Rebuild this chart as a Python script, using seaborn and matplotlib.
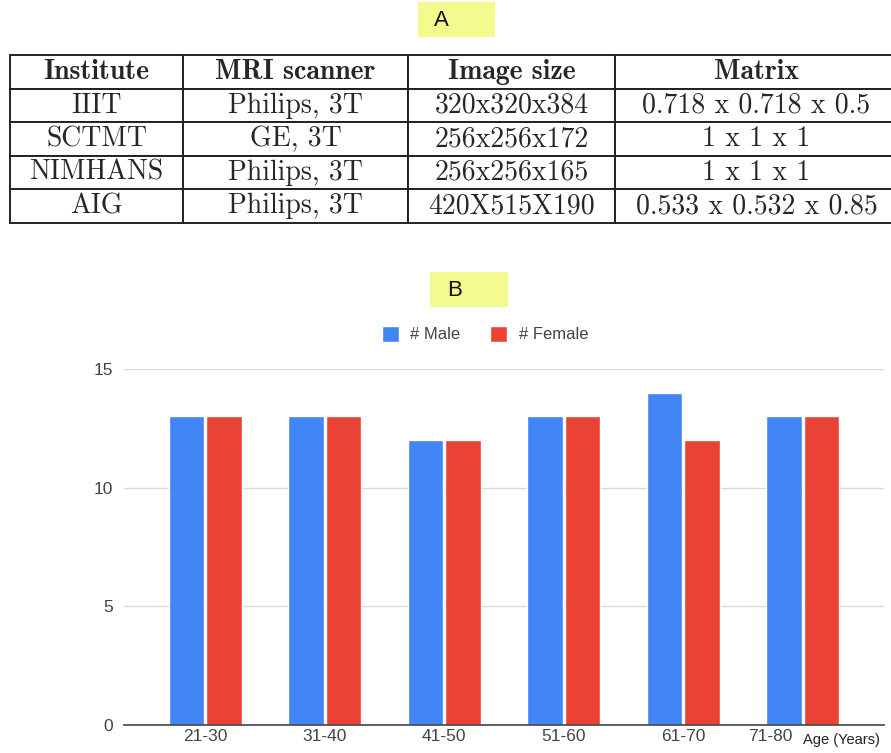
import pandas as pd
import matplotlib.pyplot as plt
import matplotlib.transforms as mtransforms
from matplotlib.patches import Rectangle
import seaborn as sns

# -------- DATA --------
table_header = ["Institute", "MRI scanner", "Image size", "Matrix"]
table_rows = [
    ["IIIT", "Philips, 3T", "320x320x384", "0.718 x 0.718 x 0.5"],
    ["SCTMT", "GE, 3T", "256x256x172", "1 x 1 x 1"],
    ["NIMHANS", "Philips, 3T", "256x256x165", "1 x 1 x 1"],
    ["AIG", "Philips, 3T", "420X515X190", "0.533 x 0.532 x 0.85"],
]

age_groups = ["21-30", "31-40", "41-50", "51-60", "61-70", "71-80"]
male_counts = [13, 13, 12, 13, 14, 13]
female_counts = [13, 13, 12, 13, 12, 13]

df = pd.DataFrame({
    "age": age_groups * 2,
    "count": male_counts + female_counts,
    "sex": ["# Male"] * len(age_groups) + ["# Female"] * len(age_groups),
})

sns.set_theme(style="white")
plt.rcParams["font.family"] = ["Liberation Sans", "DejaVu Sans"]

W, H = 891, 753
fig = plt.figure(figsize=(W / 100, H / 100), dpi=100)

# -------- TABLE (A) --------
col_px = [173, 225, 207, 283]
tab_ax = fig.add_axes([10 / W, 1 - 223 / H, sum(col_px) / W, 168 / H])
tab_ax.axis("off")
tbl = tab_ax.table(cellText=table_rows, colLabels=table_header,
                   cellLoc="center", bbox=[0, 0, 1, 1],
                   colWidths=[c / sum(col_px) for c in col_px])
tbl.auto_set_font_size(False)
for (r, c), cell in tbl.get_celld().items():
    cell.set_edgecolor("#222222")
    cell.set_linewidth(1.4)
    txt = cell.get_text()
    txt.set_fontsize(20)
    txt.set_fontfamily("cmb10" if r == 0 else "cmr10")

# panel labels on yellow boxes
yellow = "#f3fb8f"
fig.add_artist(Rectangle((418 / W, 1 - 37 / H), 77 / W, 35 / H,
                         transform=fig.transFigure, fc=yellow, ec="none"))
fig.text(441 / W, 1 - 20 / H, "A", ha="center", va="center", fontsize=16,
         color="#111111")
fig.add_artist(Rectangle((430 / W, 1 - 307 / H), 78 / W, 35 / H,
                         transform=fig.transFigure, fc=yellow, ec="none"))
fig.text(455 / W, 1 - 290 / H, "B", ha="center", va="center", fontsize=16,
         color="#111111")

# -------- BAR CHART (B) --------
ax = fig.add_axes([124 / W, 28 / H, 760 / W, 356 / H])
sns.barplot(data=df, x="age", y="count", hue="sex", ax=ax,
            palette={"# Male": "#4285f4", "# Female": "#ea4335"},
            width=0.63, gap=0.06, saturation=1)
ax.set_xlim(-0.68, 5.68)
ax.set_ylim(0, 15)
ax.set_yticks([0, 5, 10, 15])
ax.grid(axis="y", color="#dadada", linewidth=1)
ax.set_axisbelow(True)
for s in ["left", "right", "top"]:
    ax.spines[s].set_visible(False)
ax.spines["bottom"].set_color("#444444")
ax.spines["bottom"].set_linewidth(1.2)
ax.tick_params(axis="both", length=0, labelsize=12.5, labelcolor="#444444")
ax.tick_params(axis="y", pad=8)
ax.tick_params(axis="x", pad=3)
ax.set_xlabel("")
ax.set_ylabel("")

# last tick label sits left of its bars to make room for the axis title
last = ax.get_xticklabels()[-1]
last.set_transform(last.get_transform() +
                   mtransforms.ScaledTranslation(-0.32, 0, fig.dpi_scale_trans))
fig.text(803 / W, 1 - 740 / H, "Age (Years)", fontsize=10.5,
         color="#222222", ha="left", va="center")

ax.legend(loc="center", bbox_to_anchor=(485 / W, 1 - 334 / H),
          bbox_transform=fig.transFigure, ncol=2, frameon=False,
          fontsize=12, labelcolor="#444444", handlelength=1.0,
          handleheight=1.1, columnspacing=1.8, handletextpad=0.7)

plt.savefig("out.png", dpi=100)
